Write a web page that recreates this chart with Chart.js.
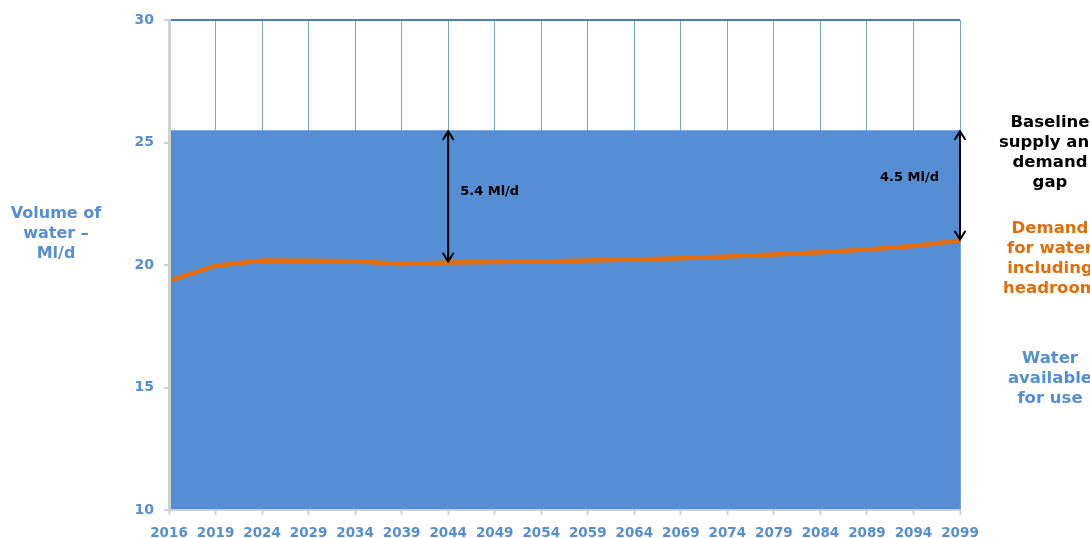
<!DOCTYPE html>
<html>
<head>
<meta charset="utf-8">
<script src="https://cdn.jsdelivr.net/npm/chart.js@4"></script>
<style>
  html, body { margin: 0; padding: 0; background: #ffffff; }
  #wrap { width: 1090px; height: 538px; position: relative; }
</style>
</head>
<body>
<div id="wrap"><canvas id="c" width="1090" height="538"></canvas></div>
<script>
// ---- data ----
const years = ['2016','2019','2024','2029','2034','2039','2044','2049','2054','2059','2064','2069','2074','2079','2084','2089','2094','2099'];
const waterAvailable = [25.5,25.5,25.5,25.5,25.5,25.5,25.5,25.5,25.5,25.5,25.5,25.5,25.5,25.5,25.5,25.5,25.5,25.5];
const demandWithHeadroom = [19.35,19.97,20.18,20.17,20.15,20.04,20.1,20.12,20.14,20.18,20.22,20.28,20.35,20.43,20.52,20.63,20.78,21.0];
const yTicks = [10, 15, 20, 25, 30];
const gapLabels = [
  { year: '2044', text: '5.4 Ml/d' },
  { year: '2099', text: '4.5 Ml/d' }
];
const yTitle = ['Volume of', 'water \u2013', 'Ml/d'];
const legendGap = ['Baseline', 'supply and', 'demand', 'gap'];
const legendDemand = ['Demand', 'for water', 'including', 'headroom'];
const legendWater = ['Water', 'available', 'for use'];

const BLUE = '#558ED5';
const ORANGE = '#E46C0A';
const FONT = '"DejaVu Sans", sans-serif';

function arrowHead(ctx, x, y, dir) {
  ctx.beginPath();
  ctx.moveTo(x - 5, y - dir * 8);
  ctx.lineTo(x, y);
  ctx.lineTo(x + 5, y - dir * 8);
  ctx.stroke();
}

const annotations = {
  id: 'annotations',
  afterDatasetsDraw(chart) {
    const ctx = chart.ctx;
    const xs = chart.scales.x, ys = chart.scales.y;
    ctx.save();
    ctx.strokeStyle = '#000000';
    ctx.lineWidth = 2;
    ctx.lineCap = 'round';
    ctx.lineJoin = 'round';
    gapLabels.forEach((g) => {
      const i = years.indexOf(g.year);
      const x = xs.getPixelForValue(i);
      const yTop = ys.getPixelForValue(waterAvailable[i]);
      const yBot = ys.getPixelForValue(demandWithHeadroom[i]);
      ctx.beginPath();
      ctx.moveTo(x, yTop + 1);
      ctx.lineTo(x, yBot - 1);
      ctx.stroke();
      arrowHead(ctx, x, yTop + 1, -1);
      arrowHead(ctx, x, yBot - 1, 1);
    });
    ctx.fillStyle = '#000000';
    ctx.font = 'bold 13px ' + FONT;
    ctx.textBaseline = 'middle';
    {
      const x = xs.getPixelForValue(years.indexOf(gapLabels[0].year));
      ctx.textAlign = 'left';
      ctx.fillText(gapLabels[0].text, x + 12, 192);
    }
    {
      const x = xs.getPixelForValue(years.indexOf(gapLabels[1].year));
      ctx.textAlign = 'right';
      ctx.fillText(gapLabels[1].text, x - 21, 178);
    }
    // y axis title
    ctx.textAlign = 'center';
    ctx.font = 'bold 16px ' + FONT;
    ctx.fillStyle = BLUE;
    yTitle.forEach((t, k) => ctx.fillText(t, 56, 214 + k * 20));
    // right legends
    const cx = 1050;
    ctx.font = 'bold 16.5px ' + FONT;
    ctx.fillStyle = '#000000';
    legendGap.forEach((t, k) => ctx.fillText(t, cx, 123 + k * 20));
    ctx.fillStyle = ORANGE;
    legendDemand.forEach((t, k) => ctx.fillText(t, cx, 229 + k * 20));
    ctx.fillStyle = BLUE;
    legendWater.forEach((t, k) => ctx.fillText(t, cx, 359 + k * 20));
    ctx.restore();
  }
};

new Chart(document.getElementById('c'), {
  type: 'line',
  data: {
    labels: years,
    datasets: [
      {
        label: 'Demand for water including headroom',
        data: demandWithHeadroom,
        borderColor: ORANGE,
        borderWidth: 4.5,
        pointRadius: 0,
        fill: false,
        tension: 0,
        order: 1
      },
      {
        label: 'Water available for use',
        data: waterAvailable,
        borderColor: BLUE,
        borderWidth: 0,
        backgroundColor: BLUE,
        pointRadius: 0,
        fill: 'start',
        tension: 0,
        order: 2
      }
    ]
  },
  options: {
    responsive: false,
    animation: false,
    devicePixelRatio: 1,
    layout: { padding: { left: 0, right: 130, top: 20, bottom: 0 } },
    plugins: {
      legend: { display: false },
      tooltip: { enabled: false },
      title: { display: false }
    },
    scales: {
      x: {
        type: 'category',
        offset: false,
        grid: {
          display: true,
          offset: false,
          color: '#7BA3DC',
          lineWidth: 1,
          drawTicks: true,
          tickLength: 5,
          tickColor: '#D0D0D0',
          tickWidth: 2
        },
        border: { display: true, color: '#D0D0D0', width: 2, z: 1 },
        ticks: {
          color: BLUE,
          font: { family: FONT, size: 13.5, weight: 'bold' },
          padding: 10,
          maxRotation: 0,
          autoSkip: false
        },
        afterFit(s) { s.height = 28; }
      },
      y: {
        min: 10,
        max: 30,
        afterBuildTicks(s) { s.ticks = yTicks.map(v => ({ value: v })); },
        grid: {
          display: true,
          color: '#4A7EBB',
          lineWidth: 2,
          drawTicks: true,
          tickLength: 5,
          tickColor: '#D0D0D0',
          tickWidth: 2
        },
        border: { display: true, color: '#D0D0D0', width: 3, z: 1 },
        ticks: {
          color: BLUE,
          font: { family: FONT, size: 14, weight: 'bold' },
          padding: 10
        },
        afterFit(s) { s.width = 169; }
      }
    }
  },
  plugins: [annotations]
});
</script>
</body>
</html>
